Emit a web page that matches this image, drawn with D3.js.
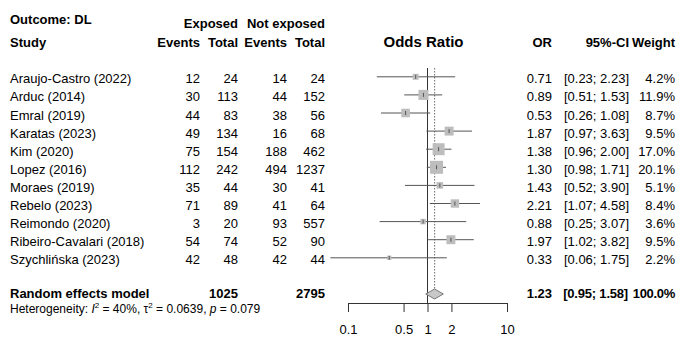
<!DOCTYPE html>
<html>
<head>
<meta charset="utf-8">
<script src="https://cdn.jsdelivr.net/npm/d3@7"></script>
<style>
  body { margin: 0; background: #fff; }
  svg text { font-family: "Liberation Sans", Arial, sans-serif; fill: #000; }
</style>
</head>
<body>
<div id="forest"></div>
<script>
const studies = ["Araujo-Castro (2022)", "Arduc (2014)", "Emral (2019)", "Karatas (2023)", "Kim (2020)",
  "Lopez (2016)", "Moraes (2019)", "Rebelo (2023)", "Reimondo (2020)", "Ribeiro-Cavalari (2018)", "Szychlińska (2023)"];
const expEvents = [12, 30, 44, 49, 75, 112, 35, 71, 3, 54, 42];
const expTotal  = [24, 113, 83, 134, 154, 242, 44, 89, 20, 74, 48];
const notEvents = [14, 44, 38, 16, 188, 494, 30, 41, 93, 52, 42];
const notTotal  = [24, 152, 56, 68, 462, 1237, 41, 64, 557, 90, 44];
const orVals = [0.71, 0.89, 0.53, 1.87, 1.38, 1.30, 1.43, 2.21, 0.88, 1.97, 0.33];
const ciLow  = [0.23, 0.51, 0.26, 0.97, 0.96, 0.98, 0.52, 1.07, 0.25, 1.02, 0.06];
const ciHigh = [2.23, 1.53, 1.08, 3.63, 2.00, 1.71, 3.90, 4.58, 3.07, 3.82, 1.75];
const weights = [4.2, 11.9, 8.7, 9.5, 17.0, 20.1, 5.1, 8.4, 3.6, 9.5, 2.2];
const pooled = {or: 1.23, lo: 0.95, hi: 1.58, expTotal: 1025, notTotal: 2795, weight: 100.0};
const tickVals = [0.1, 0.5, 1, 2, 10];

const width = 685, height = 348;

const svg = d3.select("#forest")
  .append("svg")
  .attr("width", width)
  .attr("height", height);

// scales
const x = d3.scaleLog().domain([0.1, 10]).range([348, 507]);
const y = d3.scalePoint().domain(studies).range([76.8, 257.8]);
const yPool = 294;
const axisY = 303;

const fmt2 = d3.format(".2f");
const col = {events1: 200, total1: 238, events2: 287, total2: 325, or: 552, ci: 629, w: 675};

// headers
const head = svg.append("g").style("font-weight", "bold").style("font-size", "13px");
head.append("text").attr("x", 10).attr("y", 24).text("Outcome: DL");
head.append("text").attr("x", 10).attr("y", 47).text("Study");
head.append("text").attr("x", col.total1).attr("y", 28).attr("text-anchor", "end").text("Exposed");
head.append("text").attr("x", col.total2).attr("y", 28).attr("text-anchor", "end").text("Not exposed");
[["Events", col.events1], ["Total", col.total1], ["Events", col.events2], ["Total", col.total2],
 ["OR", col.or], ["95%-CI", col.ci], ["Weight", col.w]].forEach(([t, cx]) => {
  head.append("text").attr("x", cx).attr("y", 47).attr("text-anchor", "end").text(t);
});
head.append("text").attr("x", x(1) - 4).attr("y", 47).attr("text-anchor", "middle")
  .style("font-size", "15px").text("Odds Ratio");

// reference lines
svg.append("line")
  .attr("x1", x(1)).attr("x2", x(1)).attr("y1", 68).attr("y2", axisY)
  .attr("stroke", "#333").attr("stroke-width", 1);
svg.append("line")
  .attr("x1", x(pooled.or)).attr("x2", x(pooled.or)).attr("y1", 68).attr("y2", yPool - 5)
  .attr("stroke", "#444").attr("stroke-width", 0.8).attr("stroke-dasharray", "1.5,1.5");

// study rows
const rows = svg.selectAll("g.row")
  .data(studies.map((s, i) => ({s, i})))
  .join("g").attr("class", "row");

rows.append("line")
  .attr("x1", d => x(ciLow[d.i])).attr("x2", d => x(ciHigh[d.i]))
  .attr("y1", d => y(d.s)).attr("y2", d => y(d.s))
  .attr("stroke", "#555").attr("stroke-width", 1);

rows.append("rect")
  .attr("x", d => x(orVals[d.i]) - 1.45 * Math.sqrt(weights[d.i]))
  .attr("y", d => y(d.s) - 1.45 * Math.sqrt(weights[d.i]))
  .attr("width", d => 2.9 * Math.sqrt(weights[d.i]))
  .attr("height", d => 2.9 * Math.sqrt(weights[d.i]))
  .attr("fill", "#bdbdbd");

rows.append("line")
  .attr("x1", d => x(orVals[d.i])).attr("x2", d => x(orVals[d.i]))
  .attr("y1", d => y(d.s) - 2).attr("y2", d => y(d.s) + 2)
  .attr("stroke", "#555").attr("stroke-width", 1);

const txt = (sel, xpos, f, anchor) => sel.append("text")
  .attr("x", xpos).attr("y", d => y(d.s) + 6.5)
  .attr("text-anchor", anchor || "end")
  .style("font-size", "13px")
  .text(f);

txt(rows, 10, d => d.s, "start");
txt(rows, col.events1, d => expEvents[d.i]);
txt(rows, col.total1, d => expTotal[d.i]);
txt(rows, col.events2, d => notEvents[d.i]);
txt(rows, col.total2, d => notTotal[d.i]);
txt(rows, col.or, d => fmt2(orVals[d.i]));
txt(rows, col.ci, d => `[${fmt2(ciLow[d.i])}; ${fmt2(ciHigh[d.i])}]`);
txt(rows, col.w, d => `${weights[d.i].toFixed(1)}%`);

// pooled diamond
svg.append("path")
  .attr("d", `M${x(pooled.lo)},${yPool} L${x(pooled.or)},${yPool - 5} L${x(pooled.hi)},${yPool} L${x(pooled.or)},${yPool + 5} Z`)
  .attr("fill", "#c8c8c8").attr("stroke", "#777").attr("stroke-width", 1);

const pool = svg.append("g").style("font-weight", "bold").style("font-size", "13px");
pool.append("text").attr("x", 10).attr("y", yPool + 4).text("Random effects model");
pool.append("text").attr("x", col.total1).attr("y", yPool + 4).attr("text-anchor", "end").text(pooled.expTotal);
pool.append("text").attr("x", col.total2).attr("y", yPool + 4).attr("text-anchor", "end").text(pooled.notTotal);
pool.append("text").attr("x", col.or).attr("y", yPool + 4).attr("text-anchor", "end").text(fmt2(pooled.or));
pool.append("text").attr("x", col.ci - 1).attr("y", yPool + 4).attr("text-anchor", "end")
  .style("letter-spacing", "-0.2px")
  .text(`[${fmt2(pooled.lo)}; ${fmt2(pooled.hi)}]`);
pool.append("text").attr("x", col.w).attr("y", yPool + 4).attr("text-anchor", "end")
  .style("letter-spacing", "-0.3px")
  .text(`${pooled.weight.toFixed(1)}%`);

// heterogeneity line
const het = svg.append("text").attr("x", 10).attr("y", 313).style("font-size", "12px");
het.append("tspan").text("Heterogeneity: ");
het.append("tspan").style("font-style", "italic").text("I");
het.append("tspan").attr("dy", -5).style("font-size", "8px").text("2");
het.append("tspan").attr("dy", 5).text(" = 40%, \u03c4");
het.append("tspan").attr("dy", -5).style("font-size", "8px").text("2");
het.append("tspan").attr("dy", 5).text(" = 0.0639, ");
het.append("tspan").style("font-style", "italic").text("p");
het.append("tspan").text(" = 0.079");

// x axis
const axis = svg.append("g")
  .attr("transform", `translate(0,${axisY})`)
  .call(d3.axisBottom(x).tickValues(tickVals).tickFormat(d => String(d)).tickSize(9).tickSizeOuter(0));
axis.select(".domain").attr("stroke", "#333");
axis.selectAll(".tick line").attr("stroke", "#333");
axis.selectAll(".tick text")
  .attr("y", 22)
  .style("font-family", "'Liberation Sans', Arial, sans-serif")
  .style("font-size", "13px")
  .attr("fill", "#000");
</script>
</body>
</html>
